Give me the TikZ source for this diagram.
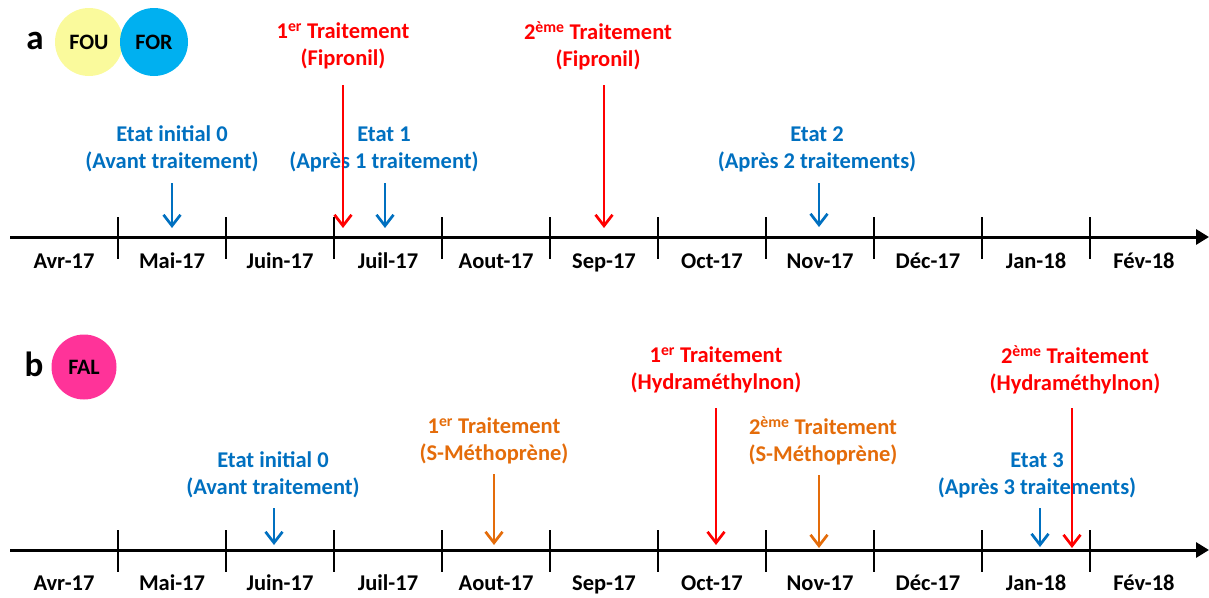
\documentclass[tikz,border=0pt]{standalone}
\usepackage{fontspec}
\setmainfont{Carlito}
\usetikzlibrary{arrows.meta}

\definecolor{etatblue}{HTML}{0070C0}
\definecolor{traitred}{HTML}{FF0000}
\definecolor{traitorange}{HTML}{E46C0A}
\definecolor{fouyellow}{HTML}{FAFA9C}
\definecolor{forblue}{HTML}{00B0F0}
\definecolor{falpink}{HTML}{FF3399}

\tikzset{
  lbl/.style={font=\fontsize{22.5}{27}\selectfont\bfseries, align=center, inner sep=0pt},
  month/.style={font=\fontsize{22.5}{27}\selectfont\bfseries, inner sep=0pt, anchor=base},
  pin/.style={line width=2.7pt, -{Straight Barb[length=11pt,width=17pt]}},
  axis/.style={line width=3pt, -{Triangle[length=13pt,width=15pt]}},
  tickmark/.style={line width=2.5pt},
  colony/.style={circle, minimum size=68pt, inner sep=0pt, font=\fontsize{22}{24}\selectfont\bfseries},
  panel/.style={font=\fontsize{35}{40}\selectfont\bfseries, inner sep=0pt}
}

\begin{document}
\begin{tikzpicture}[x=1pt, y=-1pt]
  \useasboundingbox (0,0) rectangle (1209,597);

  % a : FOU / FOR
  \node[panel] (pa) at (35,41) {a};
  \node[colony, fill=fouyellow] (fou) at (89,42) {FOU};
  \node[colony, fill=forblue] (for) at (154,42) {FOR};

  \coordinate (axa0) at (10,237);
  \coordinate (axa1) at (1209,237);
  \draw[axis] (axa0) -- (axa1);
  \foreach \i in {1,...,10}
    \draw[tickmark] (10+108*\i,217) -- (10+108*\i,259);
  \foreach \m [count=\i from 0] in {Avr-17,Mai-17,Juin-17,Juil-17,Aout-17,Sep-17,Oct-17,Nov-17,Déc-17,Jan-18,Fév-18}
    \node[month] (ma\i) at (64+108*\i,268) {\m};

  \node[lbl, traitred] (fipa) at (343,46) {1\textsuperscript{er} Traitement\\(Fipronil)};
  \node[lbl, traitred] (fipb) at (598,46) {2\textsuperscript{ème} Traitement\\(Fipronil)};
  \node[lbl, etatblue] (eta0) at (172,149) {Etat initial 0\\(Avant traitement)};
  \node[lbl, etatblue] (eta1) at (384,149) {Etat 1\\(Après 1 traitement)};
  \node[lbl, etatblue] (eta2) at (817,149) {Etat 2\\(Après 2 traitements)};

  \coordinate (pfipa) at (343,228);
  \coordinate (pfipb) at (604,228);
  \coordinate (peta0) at (172,228);
  \coordinate (peta1) at (385,228);
  \coordinate (peta2) at (819,227);
  \draw[pin, traitred] (pfipa |- 0,85) -- (pfipa);
  \draw[pin, traitred] (pfipb |- 0,85) -- (pfipb);
  \draw[pin, etatblue] (peta0 |- 0,183) -- (peta0);
  \draw[pin, etatblue] (peta1 |- 0,183) -- (peta1);
  \draw[pin, etatblue] (peta2 |- 0,183) -- (peta2);

  % b : FAL
  \node[panel] (pb) at (34,364) {b};
  \node[colony, minimum size=65pt, fill=falpink] (fal) at (84,367) {FAL};

  \coordinate (axb0) at (10,550);
  \coordinate (axb1) at (1209,550);
  \draw[axis] (axb0) -- (axb1);
  \foreach \i in {1,...,10}
    \draw[tickmark] (10+108*\i,530) -- (10+108*\i,572);
  \foreach \m [count=\i from 0] in {Avr-17,Mai-17,Juin-17,Juil-17,Aout-17,Sep-17,Oct-17,Nov-17,Déc-17,Jan-18,Fév-18}
    \node[month] (mb\i) at (64+108*\i,590) {\m};

  \node[lbl, etatblue] (etb0) at (273,475) {Etat initial 0\\(Avant traitement)};
  \node[lbl, traitorange] (meta) at (494,441) {1\textsuperscript{er} Traitement\\(S-Méthoprène)};
  \node[lbl, traitred] (hyda) at (716,370) {1\textsuperscript{er} Traitement\\(Hydraméthylnon)};
  \node[lbl, traitorange] (metb) at (823,441) {2\textsuperscript{ème} Traitement\\(S-Méthoprène)};
  \node[lbl, etatblue] (etb3) at (1037,475) {Etat 3\\(Après 3 traitements)};
  \node[lbl, traitred] (hydb) at (1075,370) {2\textsuperscript{ème} Traitement\\(Hydraméthylnon)};

  \coordinate (petb0) at (274,545);
  \coordinate (pmeta) at (494,545);
  \coordinate (phyda) at (716,545);
  \coordinate (pmetb) at (819,548);
  \coordinate (petb3) at (1040,547);
  \coordinate (phydb) at (1072,548);
  \draw[pin, etatblue] (petb0 |- 0,508) -- (petb0);
  \draw[pin, traitorange] (pmeta |- 0,474) -- (pmeta);
  \draw[pin, traitred] (phyda |- 0,408) -- (phyda);
  \draw[pin, traitorange] (pmetb |- 0,475) -- (pmetb);
  \draw[pin, etatblue] (petb3 |- 0,508) -- (petb3);
  \draw[pin, traitred] (phydb |- 0,408) -- (phydb);
\end{tikzpicture}
\end{document}
